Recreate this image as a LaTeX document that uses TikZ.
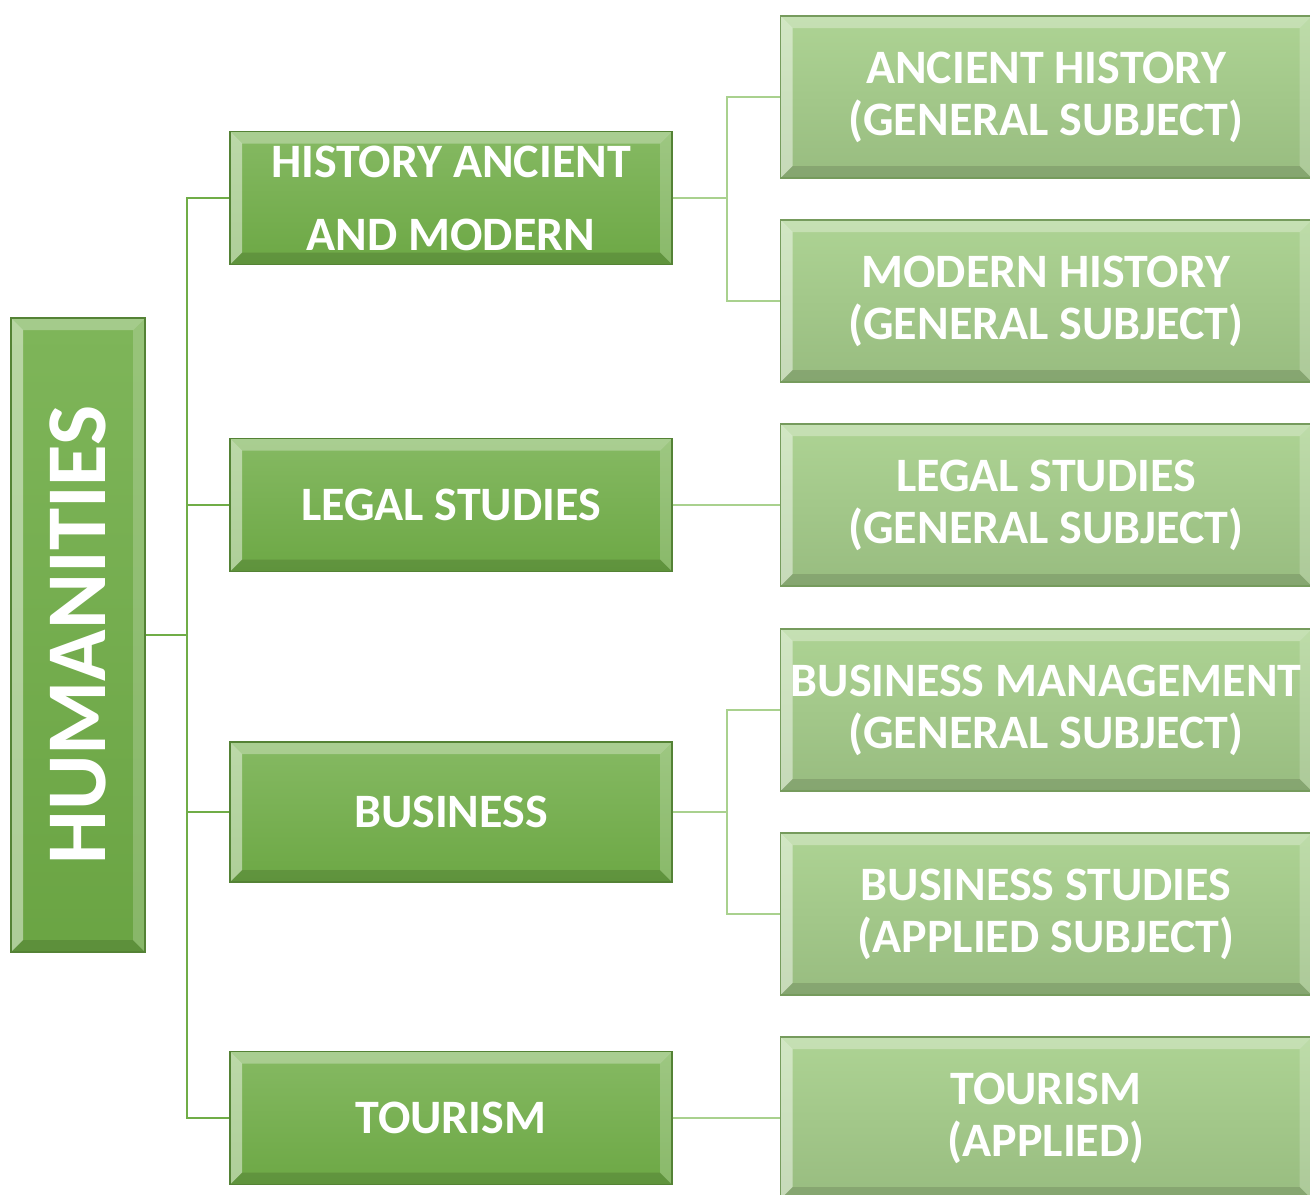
\documentclass[tikz,border=0pt]{standalone}
\usepackage{fontspec}
\setmainfont{Carlito}
\usetikzlibrary{positioning, calc}

\definecolor{darkgrn}{RGB}{84,130,53}
\definecolor{midgrn}{RGB}{112,173,71}
\definecolor{lightgrn}{RGB}{169,209,142}

\tikzset{
  bevel/.style={path picture={
      \coordinate (bnw) at (path picture bounding box.north west);
      \coordinate (bne) at (path picture bounding box.north east);
      \coordinate (bsw) at (path picture bounding box.south west);
      \coordinate (bse) at (path picture bounding box.south east);
      \fill[white,opacity=.30] (bnw) -- (bne) -- ([shift={(-#1,-#1)}]bne) -- ([shift={(#1,-#1)}]bnw) -- cycle;
      \fill[white,opacity=.45] (bnw) -- ([shift={(#1,-#1)}]bnw) -- ([shift={(#1,#1)}]bsw) -- (bsw) -- cycle;
      \fill[white,opacity=.20] (bne) -- ([shift={(-#1,-#1)}]bne) -- ([shift={(-#1,#1)}]bse) -- (bse) -- cycle;
      \fill[black,opacity=.12] (bsw) -- ([shift={(#1,#1)}]bsw) -- ([shift={(-#1,#1)}]bse) -- (bse) -- cycle;
    }},
  topbox/.style={draw=darkgrn, line width=.6pt, bevel=6pt,
    top color=midgrn!90!white, bottom color=midgrn!95!black,
    text=white, font=\bfseries\fontsize{42.5}{46}\selectfont,
    minimum width=67pt, minimum height=317pt, inner sep=0pt},
  subbox/.style={draw=darkgrn, line width=.6pt, bevel=6pt,
    top color=midgrn!85!white, bottom color=midgrn!97!black,
    text=white, font=\bfseries\fontsize{24}{36.5}\selectfont, align=center,
    minimum width=221pt, minimum height=66.5pt, inner sep=0pt},
  leafbox/.style={draw=darkgrn!80, line width=.6pt, bevel=6pt,
    top color=lightgrn!95!white, bottom color=lightgrn!90!black,
    text=white, font=\bfseries\fontsize{24}{26}\selectfont, align=center,
    minimum width=265.5pt, minimum height=81pt, inner sep=0pt},
  trunk/.style={draw=midgrn, line width=1pt},
  twig/.style={draw=lightgrn, line width=1.2pt}
}

\begin{document}
\begin{tikzpicture}[x=0.5pt, y=-0.5pt]
  \clip (0,0) rectangle (1310,1194);
  \useasboundingbox (0,0) rectangle (1310,1194);

  % root
  \node[topbox] (hum) at (78,635) {\rotatebox{90}{HUMANITIES}};

  % subjects
  \node[subbox] (hist)  at (451,198)  {HISTORY ANCIENT\\AND MODERN};
  \node[subbox] (legal) at (451,505)  {LEGAL STUDIES};
  \node[subbox, minimum height=70pt] (bus) at (451,812) {BUSINESS};
  \node[subbox] (tour)  at (451,1118) {TOURISM};

  % courses
  \node[leafbox] (anc)   at (1046,97)   {ANCIENT HISTORY\\(GENERAL SUBJECT)};
  \node[leafbox] (mod)   at (1046,301)  {MODERN HISTORY\\(GENERAL SUBJECT)};
  \node[leafbox] (legg)  at (1046,505)  {LEGAL STUDIES\\(GENERAL SUBJECT)};
  \node[leafbox] (busm)  at (1046,710)  {BUSINESS MANAGEMENT\\(GENERAL SUBJECT)};
  \node[leafbox] (buss)  at (1046,914)  {BUSINESS STUDIES\\(APPLIED SUBJECT)};
  \node[leafbox] (toura) at (1046,1118) {TOURISM\\(APPLIED)};

  % root to subjects
  \coordinate (hj) at (187,635);
  \draw[trunk] (hum.east) -- (hj);
  \draw[trunk] (hj) |- (hist.west);
  \draw[trunk] (hj) |- (legal.west);
  \draw[trunk] (hj) |- (bus.west);
  \draw[trunk] (hj) |- (tour.west);

  % subjects to courses
  \coordinate (histj) at (727,198);
  \coordinate (busj) at (727,812);
  \draw[twig] (hist.east) -- (histj) |- (anc.west);
  \draw[twig] (histj) |- (mod.west);
  \draw[twig] (legal.east) -- (legg.west);
  \draw[twig] (bus.east) -- (busj) |- (busm.west);
  \draw[twig] (busj) |- (buss.west);
  \draw[twig] (tour.east) -- (toura.west);
\end{tikzpicture}
\end{document}
